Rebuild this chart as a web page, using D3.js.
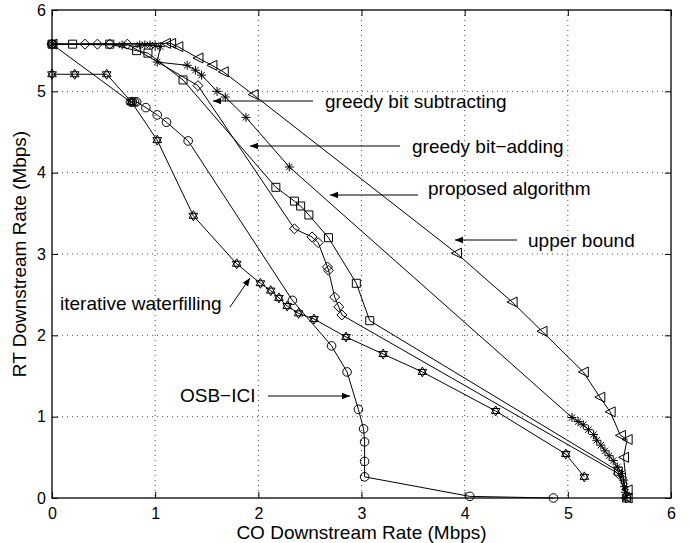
<!DOCTYPE html>
<html>
<head>
<script src="https://d3js.org/d3.v7.min.js"></script>
<style>
  body { margin: 0; background: #fff; }
  text { font-family: "Liberation Sans", Arial, sans-serif; fill: #000; }
</style>
</head>
<body>
<svg width="689" height="543"></svg>
<script>
// ---- data (CO rate, RT rate) ----
var upperCO = [0, 1.10, 1.15, 1.22, 1.415, 1.55, 1.66, 1.95, 3.92, 4.46, 4.75, 5.15, 5.31, 5.41, 5.51, 5.575, 5.54, 5.575, 5.575];
var upperRT = [5.58, 5.59, 5.59, 5.55, 5.41, 5.32, 5.24, 4.96, 3.01, 2.41, 2.05, 1.55, 1.24, 1.06, 0.77, 0.72, 0.50, 0.10, 0];

var addCO = [0, 0.68, 0.85, 0.90, 0.95, 1.00, 1.05, 1.02, 1.31, 1.39, 1.45, 1.60, 1.68, 1.88, 2.30, 5.04, 5.10, 5.15, 5.20, 5.25, 5.28, 5.32, 5.36, 5.40, 5.44, 5.48, 5.52, 5.54, 5.55, 5.56, 5.56];
var addRT = [5.58, 5.57, 5.57, 5.57, 5.57, 5.56, 5.55, 5.36, 5.32, 5.26, 5.20, 5.00, 4.93, 4.68, 4.07, 0.99, 0.94, 0.90, 0.84, 0.78, 0.71, 0.65, 0.58, 0.52, 0.46, 0.38, 0.30, 0.22, 0.14, 0.07, 0];

var propCO = [0, 0.20, 0.56, 0.82, 0.93, 1.27, 2.17, 2.35, 2.41, 2.49, 2.68, 2.95, 3.08, 5.49, 5.57];
var propRT = [5.58, 5.58, 5.58, 5.50, 5.47, 5.14, 3.82, 3.65, 3.59, 3.48, 3.20, 2.64, 2.18, 0.33, 0];

var subCO = [0, 0.32, 0.44, 0.56, 0.73, 1.415, 2.35, 2.52, 2.58, 2.67, 2.68, 2.74, 2.78, 2.81, 5.49, 5.57];
var subRT = [5.58, 5.58, 5.58, 5.58, 5.58, 5.07, 3.31, 3.21, 3.14, 2.84, 2.80, 2.47, 2.35, 2.25, 0.30, 0];

var osbCO = [0, 0.76, 0.78, 0.80, 0.82, 0.91, 1.02, 1.11, 1.32, 2.33, 2.71, 2.86, 2.97, 3.02, 3.03, 3.03, 3.03, 4.05, 4.86];
var osbRT = [5.58, 4.87, 4.87, 4.87, 4.87, 4.80, 4.71, 4.62, 4.39, 2.43, 1.87, 1.55, 1.09, 0.85, 0.69, 0.45, 0.26, 0.02, 0];

var iwCO = [0, 0.22, 0.53, 0.77, 1.02, 1.37, 1.79, 2.02, 2.12, 2.20, 2.28, 2.39, 2.54, 2.85, 3.21, 3.59, 4.30, 4.98, 5.16];
var iwRT = [5.21, 5.21, 5.21, 4.87, 4.40, 3.47, 2.88, 2.64, 2.55, 2.46, 2.36, 2.27, 2.20, 1.98, 1.77, 1.55, 1.07, 0.54, 0.26];

var ticks = [0, 1, 2, 3, 4, 5, 6];

// ---- setup ----
var svg = d3.select("svg"),
    padL = 52, padR = 671, padT = 10, padB = 498;

var x = d3.scaleLinear().domain([0, 6]).range([padL, padR]);
var y = d3.scaleLinear().domain([0, 6]).range([padB, padT]);

// grid (dotted)
var grid = svg.append("g").attr("stroke", "#000").attr("stroke-width", 0.7)
    .attr("stroke-dasharray", "1,4");
ticks.slice(1, 6).forEach(function(t) {
    grid.append("line").attr("x1", x(t)).attr("x2", x(t)).attr("y1", padT).attr("y2", padB);
    grid.append("line").attr("x1", padL).attr("x2", padR).attr("y1", y(t)).attr("y2", y(t));
});

// axes, ticks inward on all sides
var fmt = d3.format("d");
var xAxis = d3.axisBottom(x).tickValues(ticks).tickFormat(fmt).tickSizeInner(-6).tickSizeOuter(0).tickPadding(10);
var yAxis = d3.axisLeft(y).tickValues(ticks).tickFormat(fmt).tickSizeInner(-6).tickSizeOuter(0).tickPadding(6);

svg.append("g").attr("transform", "translate(0," + padB + ")").call(xAxis);
svg.append("g").attr("transform", "translate(" + padL + ",0)").call(yAxis);
svg.append("g").attr("transform", "translate(0," + padT + ")")
   .call(d3.axisTop(x).tickValues(ticks).tickSizeInner(-6).tickSizeOuter(0).tickFormat(""));
svg.append("g").attr("transform", "translate(" + padR + ",0)")
   .call(d3.axisRight(y).tickValues(ticks).tickSizeInner(-6).tickSizeOuter(0).tickFormat(""));

svg.selectAll(".tick text").style("font-size", "16px").style("font-family", "Liberation Sans, Arial, sans-serif");
svg.selectAll(".tick line").attr("stroke", "#000");
svg.selectAll(".domain").remove();

svg.append("rect").attr("x", padL).attr("y", padT)
   .attr("width", padR - padL).attr("height", padB - padT)
   .attr("fill", "none").attr("stroke", "#000").attr("stroke-width", 1.3);

// ---- markers ----
function markerPath(type) {
    var h;
    switch (type) {
        case "circle": h = 4.3;
            return "M" + h + ",0A" + h + "," + h + " 0 1 1 " + (-h) + ",0A" + h + "," + h + " 0 1 1 " + h + ",0Z";
        case "square": h = 4;
            return "M" + (-h) + "," + (-h) + "H" + h + "V" + h + "H" + (-h) + "Z";
        case "diamond": h = 5;
            return "M0," + (-h) + "L" + h + ",0L0," + h + "L" + (-h) + ",0Z";
        case "triangle": h = 5;
            return "M" + (-h) + ",0L" + h + "," + (-h) + "L" + h + "," + h + "Z";
        case "asterisk": h = 4.5; var a = h * 0.707;
            return "M" + (-h) + ",0H" + h + "M0," + (-h) + "V" + h +
                   "M" + (-a) + "," + (-a) + "L" + a + "," + a + "M" + (-a) + "," + a + "L" + a + "," + (-a);
        case "hexagram": h = 5; var c = h * 0.866, s = h * 0.5;
            return "M0," + (-h) + "L" + c + "," + s + "L" + (-c) + "," + s + "Z" +
                   "M0," + h + "L" + c + "," + (-s) + "L" + (-c) + "," + (-s) + "Z";
    }
}

var series = [
    { co: upperCO, rt: upperRT, marker: "triangle" },
    { co: addCO, rt: addRT, marker: "asterisk" },
    { co: propCO, rt: propRT, marker: "square" },
    { co: subCO, rt: subRT, marker: "diamond" },
    { co: osbCO, rt: osbRT, marker: "circle" },
    { co: iwCO, rt: iwRT, marker: "hexagram" }
];

var line = d3.line().x(function(d) { return x(d[0]); }).y(function(d) { return y(d[1]); });

series.forEach(function(s) {
    var pts = s.co.map(function(v, i) { return [v, s.rt[i]]; });
    svg.append("path").datum(pts).attr("d", line)
       .attr("fill", "none").attr("stroke", "#000").attr("stroke-width", 1);
    svg.append("g").selectAll("path").data(pts).enter().append("path")
       .attr("transform", function(d) { return "translate(" + x(d[0]) + "," + y(d[1]) + ")"; })
       .attr("d", markerPath(s.marker))
       .attr("fill", "none").attr("stroke", "#000").attr("stroke-width", 1);
});

// ---- annotations ----
svg.append("defs").append("marker")
   .attr("id", "arr").attr("viewBox", "0 0 10 10").attr("refX", 10).attr("refY", 5)
   .attr("markerWidth", 12).attr("markerHeight", 8).attr("markerUnits", "userSpaceOnUse")
   .attr("orient", "auto")
   .append("path").attr("d", "M0,1L10,5L0,9Z").attr("fill", "#000");

var notes = [
    { text: "greedy bit subtracting", tx: 325, ty: 108, x1: 313, y1: 101, x2: 213, y2: 101 },
    { text: "greedy bit\u2212adding", tx: 412, ty: 153, x1: 400, y1: 146, x2: 250, y2: 146 },
    { text: "proposed algorithm", tx: 428, ty: 195, x1: 418, y1: 195, x2: 330, y2: 195 },
    { text: "upper bound", tx: 528, ty: 247, x1: 517, y1: 240, x2: 455, y2: 240 },
    { text: "iterative waterfilling", tx: 60, ty: 310, x1: 230, y1: 307, x2: 250, y2: 278 },
    { text: "OSB\u2212ICI", tx: 180, ty: 402, x1: 268, y1: 396, x2: 350, y2: 396 }
];

notes.forEach(function(n) {
    svg.append("text").attr("x", n.tx).attr("y", n.ty).style("font-size", "19px").text(n.text);
    svg.append("line").attr("x1", n.x1).attr("y1", n.y1).attr("x2", n.x2).attr("y2", n.y2)
       .attr("stroke", "#000").attr("stroke-width", 1).attr("marker-end", "url(#arr)");
});

// axis titles
svg.append("text").attr("x", (padL + padR) / 2).attr("y", 539)
   .attr("text-anchor", "middle").style("font-size", "19px").text("CO Downstream Rate (Mbps)");
svg.append("text").attr("transform", "translate(26," + ((padT + padB) / 2) + ") rotate(-90)")
   .attr("text-anchor", "middle").style("font-size", "19px").text("RT Downstream Rate (Mbps)");
</script>
</body>
</html>
